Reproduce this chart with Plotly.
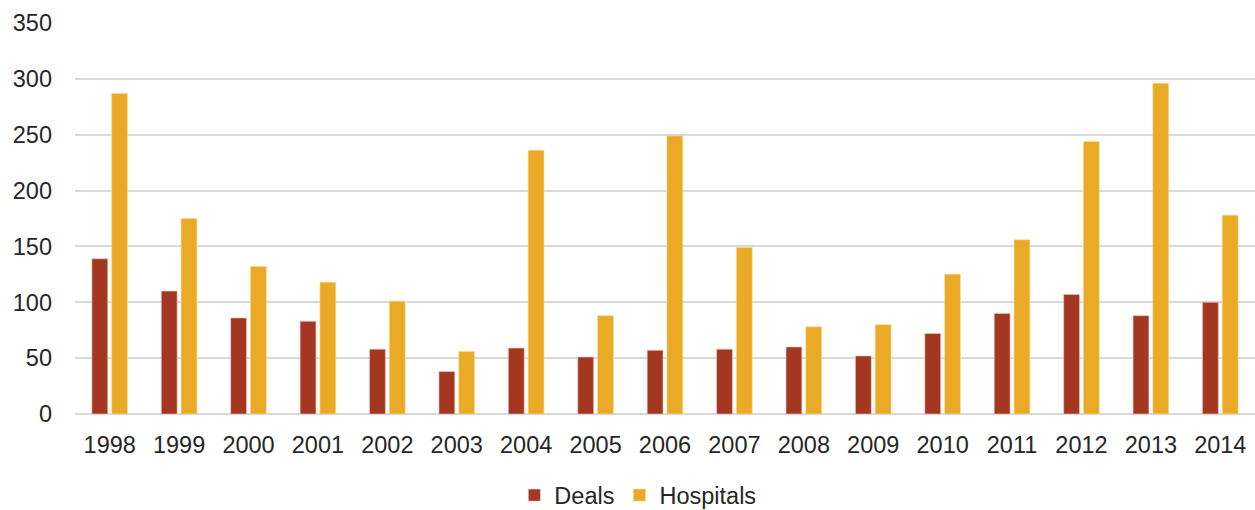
import plotly.graph_objects as go

years = ["1998", "1999", "2000", "2001", "2002", "2003", "2004", "2005", "2006",
         "2007", "2008", "2009", "2010", "2011", "2012", "2013", "2014"]
deals = [139, 110, 86, 83, 58, 38, 59, 51, 57, 58, 60, 52, 72, 90, 107, 88, 100]
hospitals = [287, 175, 132, 118, 101, 56, 236, 88, 249, 149, 78, 80, 125, 156, 244, 296, 178]
y_ticks = [0, 50, 100, 150, 200, 250, 300, 350]

fig = go.Figure()
fig.add_trace(go.Bar(x=years, y=deals, name="Deals",
                     marker=dict(color="#A33722", line=dict(color="#E8C9C0", width=0.6))))
fig.add_trace(go.Bar(x=years, y=hospitals, name="Hospitals",
                     marker=dict(color="#EAAA25", line=dict(color="#F6DB9A", width=0.6))))

fig.update_layout(
    width=1255, height=510,
    margin=dict(l=75, r=0, t=23, b=96, autoexpand=False),
    paper_bgcolor="white", plot_bgcolor="white",
    font=dict(family="Liberation Sans, Arial, sans-serif", size=23.5, color="#262626"),
    barmode="group", bargap=0.43, bargroupgap=0.2,
    legend=dict(orientation="h", x=0.477, xanchor="center", y=-0.208, yanchor="middle",
                font=dict(size=23.5), itemwidth=30, tracegroupgap=0),
    showlegend=True,
)
fig.update_xaxes(showgrid=False, showline=False, ticks="", ticklabelstandoff=14,
                 tickfont=dict(size=23.5), automargin=False)
fig.update_yaxes(range=[0, 350], tickvals=y_ticks, showgrid=True, gridcolor="#D9D9D9",
                 gridwidth=1.6, zeroline=True, zerolinecolor="#D9D9D9", zerolinewidth=1.6,
                 showline=False, ticks="", ticklabelstandoff=22, tickfont=dict(size=23.5),
                 automargin=False)

fig.write_html("out.html")
